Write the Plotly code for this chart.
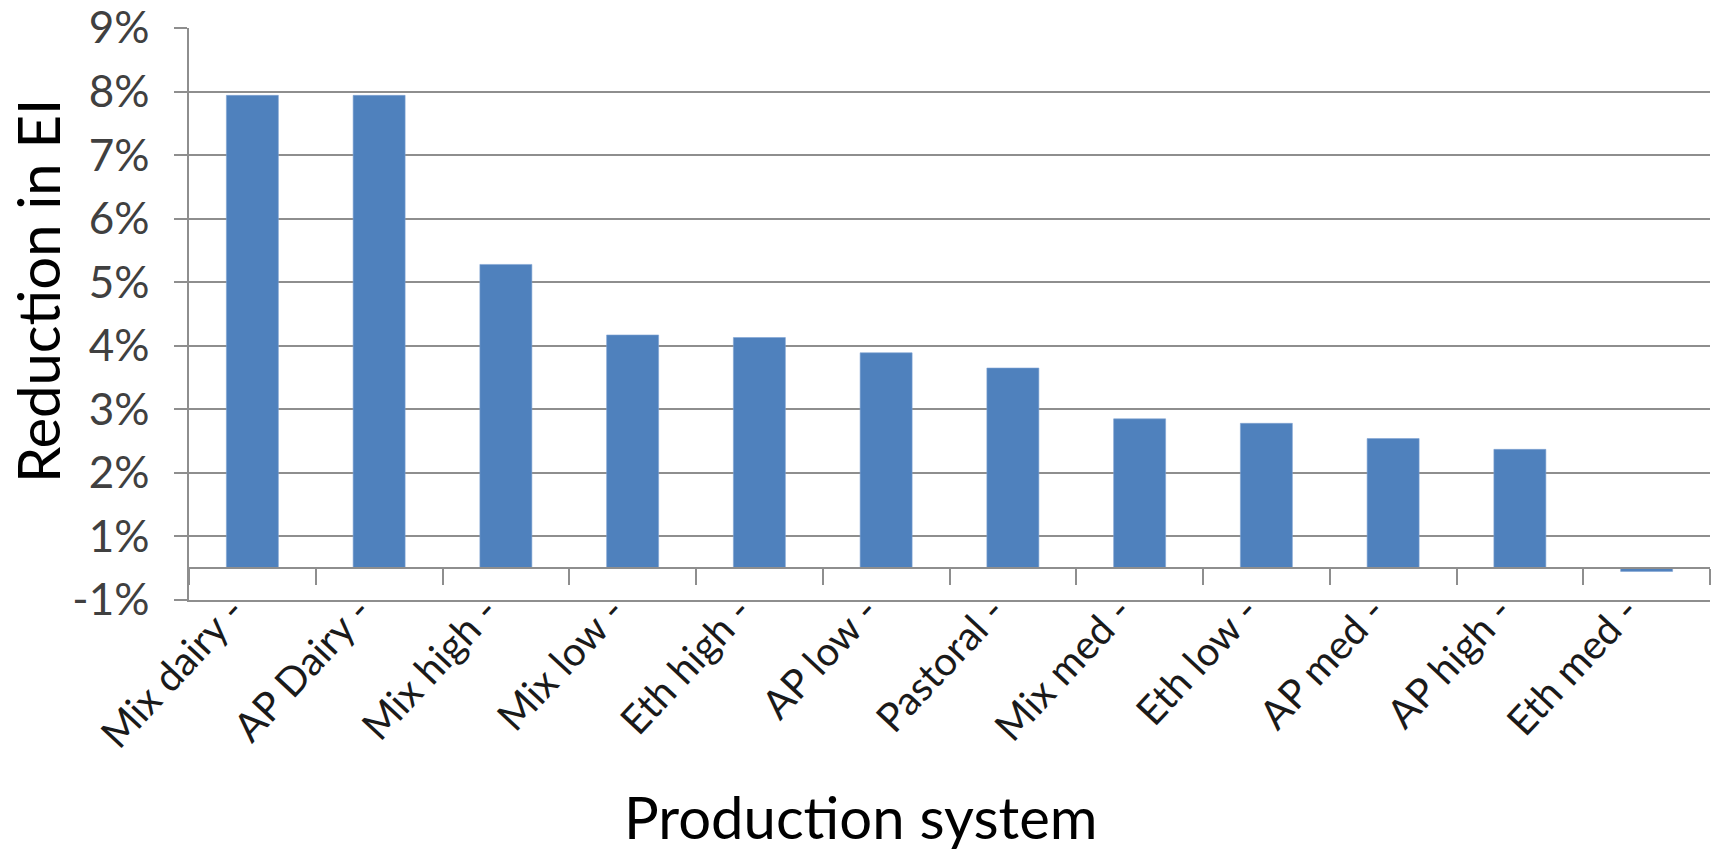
import plotly.graph_objects as go

# Production systems and the reduction in emission intensity (fraction)
systems = ["Mix dairy -", "AP Dairy -", "Mix high -", "Mix low -", "Eth high -", "AP low -",
           "Pastoral -", "Mix med -", "Eth low -", "AP med -", "AP high -", "Eth med -"]
reduction = [0.0744, 0.0744, 0.0478, 0.0367, 0.0363, 0.0339,
             0.0315, 0.0235, 0.0228, 0.0204, 0.0187, -0.0005]

# Value axis: gridlines every 1% starting at -0.5%, labelled with whole percents
y_tick_values = [-0.005, 0.005, 0.015, 0.025, 0.035, 0.045, 0.055, 0.065, 0.075, 0.085]
y_tick_labels = ["-1%", "1%", "2%", "3%", "4%", "5%", "6%", "7%", "8%", "9%"]

GRID = "#8e8e8e"
BAR = "#4f81bd"
FONT = "Lato"

fig = go.Figure()

fig.add_trace(go.Bar(
    x=systems, y=reduction,
    marker=dict(color=BAR, line=dict(color="#7fa3d3", width=0.6)),
    xaxis="x", yaxis="y", hoverinfo="x+y",
))

# helper trace so the zero-line category axis has the same categories
fig.add_trace(go.Scatter(
    x=systems, y=reduction, mode="markers", marker=dict(opacity=0),
    xaxis="x2", yaxis="y", hoverinfo="skip", showlegend=False,
))

y_min, y_max = y_tick_values[0], y_tick_values[-1]
zero_pos = (0 - y_min) / (y_max - y_min)

fig.update_layout(
    width=1717, height=851,
    margin=dict(l=189, r=7, t=28, b=251),
    paper_bgcolor="white", plot_bgcolor="white",
    showlegend=False,
    bargap=0.59,
    font=dict(family=FONT, color="#404040"),
    xaxis=dict(
        type="category", categoryorder="array", categoryarray=systems,
        range=[-0.5, len(systems) - 0.5], automargin=False,
        showline=True, linecolor=GRID, linewidth=1.5,
        showgrid=False, zeroline=False, ticks="",
        tickangle=-47, ticklabelstandoff=-30, ticklabelshift=-20,
        tickfont=dict(family=FONT, size=40, color="#1a1a1a"),
    ),
    xaxis2=dict(
        type="category", categoryorder="array", categoryarray=systems,
        range=[-0.5, len(systems) - 0.5], automargin=False,
        overlaying="x", anchor="free", position=zero_pos,
        showline=True, linecolor=GRID, linewidth=1.5,
        ticks="outside", tickson="boundaries", ticklen=16, tickwidth=1.5, tickcolor=GRID,
        showticklabels=False, showgrid=False, zeroline=False,
    ),
    yaxis=dict(
        range=[y_min, y_max], automargin=False,
        tickvals=y_tick_values, ticktext=y_tick_labels,
        showgrid=True, gridcolor=GRID, gridwidth=1.5,
        showline=True, linecolor=GRID, linewidth=1.5,
        ticks="outside", ticklen=13, tickwidth=1.5, tickcolor=GRID,
        ticklabelstandoff=16,
        zeroline=False,
        tickfont=dict(family=FONT, size=44, color="#404040"),
    ),
    annotations=[
        dict(text="Reduction in EI", textangle=-90, showarrow=False,
             xref="paper", yref="paper", x=-0.1, y=0.54,
             xanchor="center", yanchor="middle",
             font=dict(family=FONT, size=58, color="black")),
        dict(text="Production system", showarrow=False,
             xref="paper", yref="paper", x=0.4417, y=-0.379,
             xanchor="center", yanchor="middle",
             font=dict(family=FONT, size=58, color="black")),
    ],
)

fig.write_html("out.html")
